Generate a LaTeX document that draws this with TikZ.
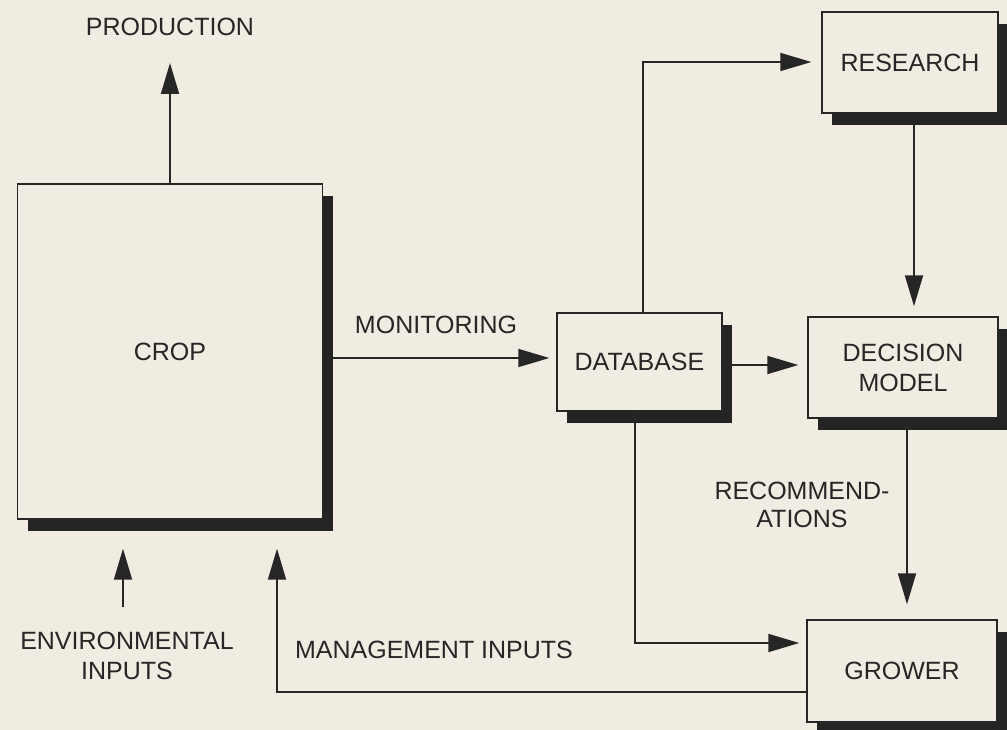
\documentclass[tikz,border=0pt]{standalone}
\usepackage{fontspec}
\setmainfont{Liberation Sans}
\usetikzlibrary{arrows.meta,shadows,calc}
\definecolor{paper}{HTML}{F0ECE2}
\definecolor{ink}{HTML}{262626}
\definecolor{shade}{HTML}{242424}
\tikzset{
  boxnode/.style={draw=ink, fill=paper, line width=1.4pt, inner sep=0pt,
    align=center, text=ink, font=\fontsize{25}{30}\selectfont,
    general shadow={fill=shade, shadow xshift=10pt, shadow yshift=-12pt}},
  lbl/.style={text=ink, font=\fontsize{25}{30}\selectfont, align=center, inner sep=0pt},
  arr/.style={draw=ink, line width=1.8pt, -{Triangle[length=31pt,width=18pt]}},
}
\begin{document}
\begin{tikzpicture}[x=1pt,y=-1pt]
\fill[paper] (0,0) rectangle (1007,730);
\useasboundingbox (0,0) rectangle (1007,730);

% boxes
\node[boxnode, minimum width=305pt, minimum height=335pt] (crop) at (170,351.5) {CROP};
\node[boxnode, minimum width=165pt, minimum height=98pt] (db) at (639.5,362) {DATABASE};
\node[boxnode, minimum width=190pt, minimum height=101pt] (dec) at (903,367.5) {DECISION\\MODEL};
\node[boxnode, minimum width=176pt, minimum height=101pt] (res) at (910,62.5) {RESEARCH};
\node[boxnode, minimum width=190pt, minimum height=102pt] (grow) at (902,671) {GROWER};

% labels
\node[lbl] (prod) at (170,27) {PRODUCTION};
\node[lbl] (mon) at (436,325) {MONITORING};
\node[lbl, font=\fontsize{25}{28}\selectfont] (rec) at (802,505) {RECOMMEND-\\ATIONS};
\node[lbl] (env) at (127,656) {ENVIRONMENTAL\\INPUTS};
\node[lbl] (man) at (434,650) {MANAGEMENT INPUTS};

\coordinate (envstart) at (123,607);

% connectors
\draw[arr] (crop.north) -- (crop.north |- 0,63);
\draw[arr, shorten >=7pt] (crop.east |- 0,358) -- (db.west |- 0,358);
\draw[arr, shorten >=9pt] (db.east |- 0,365) -- (dec.west |- 0,365);
\draw[arr, shorten >=10pt] (db.north -| 643,0) -- (643,62) -- (res.west |- 0,62);
\draw[arr, shorten >=10pt] (res.south -| 914,0) -- (dec.north -| 914,0);
\draw[arr, shorten >=15pt] (dec.south -| 907,0) -- (grow.north -| 907,0);
\draw[arr, shorten >=7pt] (db.south -| 635,0) -- (635,643) -- (grow.west |- 0,643);
\draw[arr, shorten >=29pt] (grow.west |- 0,692) -- (277,692) -- (crop.south -| 277,0);
\draw[arr, shorten >=29pt] (envstart) -- (crop.south -| envstart);
\end{tikzpicture}
\end{document}
